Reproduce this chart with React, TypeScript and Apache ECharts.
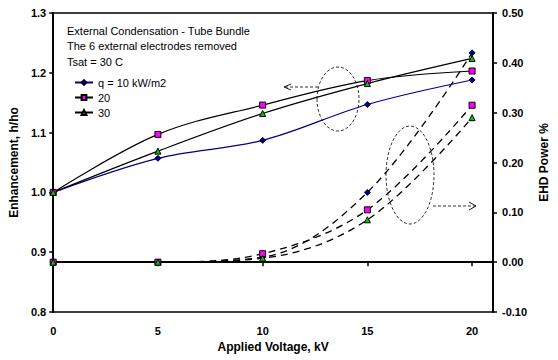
import React, { useEffect, useRef } from "react";
import * as echarts from "echarts";

const volts = [0, 5, 10, 15, 20];
const seriesNames = ["q = 10 kW/m2", "20", "30"];
const enh10 = [1.0, 1.057, 1.087, 1.147, 1.188];
const enh20 = [1.0, 1.097, 1.146, 1.187, 1.203];
const enh30 = [1.0, 1.069, 1.132, 1.182, 1.224];
const pow10 = [0, 0, 0.01, 0.14, 0.42];
const pow20 = [0, 0, 0.017, 0.105, 0.315];
const pow30 = [0, 0, 0.008, 0.085, 0.29];
const headerLines = [
  "External Condensation - Tube Bundle",
  "The 6 external electrodes removed",
  "Tsat = 30 C",
];

const FONT = "Liberation Sans, Arial, sans-serif";

export default function App() {
  const ref = useRef<HTMLDivElement>(null);
  useEffect(() => {
    document.body.style.margin = "0";
    if (!ref.current) return;
    const chart = echarts.init(ref.current, undefined, { renderer: "svg" });
    const pts = (ys: number[]) => volts.map((x, i) => [x, ys[i]]);
    const markers = [
      { symbol: "diamond", size: 6, color: "#000080", border: "#000040" },
      { symbol: "rect", size: 6, color: "#FF00FF", border: "#000000" },
      { symbol: "triangle", size: 6, color: "#00CC00", border: "#000000" },
    ];
    const enh = [enh10, enh20, enh30];
    const pw = [pow10, pow20, pow30];
    const lineColors = ["#000080", "#000000", "#000000"];
    const series: any[] = [];
    pw.forEach((p, i) => {
      series.push({
        name: seriesNames[i] + " EHD",
        type: "line",
        yAxisIndex: 1,
        data: pts(p),
        smooth: 0.35,
        symbol: markers[i].symbol,
        symbolSize: markers[i].size,
        itemStyle: { color: markers[i].color, borderColor: markers[i].border, borderWidth: 1 },
        lineStyle: { color: "#000", width: 1.3, type: [7, 5] },
        z: 2,
      });
    });
    enh.forEach((e, i) => {
      series.push({
        name: seriesNames[i],
        type: "line",
        yAxisIndex: 0,
        data: pts(e),
        smooth: 0.35,
        symbol: markers[i].symbol,
        symbolSize: markers[i].size,
        itemStyle: { color: markers[i].color, borderColor: markers[i].border, borderWidth: 1 },
        lineStyle: { color: lineColors[i], width: 1.2 },
        z: 3,
      });
    });
    const axisLabelStyle = { fontFamily: FONT, fontWeight: "bold" as const, fontSize: 11, color: "#000" };
    const nameStyle = { fontFamily: FONT, fontWeight: "bold" as const, fontSize: 12, color: "#000" };
    chart.setOption({
      animation: false,
      backgroundColor: "#fff",
      grid: {
        left: 52,
        right: 53,
        top: 13,
        bottom: 48,
        show: true,
        borderColor: "#000",
        borderWidth: 1.5,
        backgroundColor: "transparent",
      },
      legend: {
        data: seriesNames,
        orient: "vertical",
        left: 69,
        top: 72,
        itemWidth: 18,
        itemHeight: 6,
        itemGap: 4,
        textStyle: { fontFamily: FONT, fontSize: 11, color: "#000" },
      },
      xAxis: {
        type: "value",
        min: 0,
        max: 21,
        interval: 5,
        name: "Applied Voltage, kV",
        nameLocation: "middle",
        nameGap: 25,
        nameTextStyle: nameStyle,
        axisLine: { lineStyle: { color: "#000", width: 2 } },
        axisTick: { inside: false, length: 4, lineStyle: { color: "#000", width: 1.5 } },
        axisLabel: {
          ...axisLabelStyle,
          margin: 13,
          formatter: (v: number) => (v % 5 === 0 ? String(v) : ""),
        },
        splitLine: { show: false },
      },
      yAxis: [
        {
          type: "value",
          position: "left",
          min: 0.8,
          max: 1.3,
          interval: 0.1,
          name: "Enhancement, h/ho",
          nameLocation: "middle",
          nameRotate: 90,
          nameGap: 28,
          nameTextStyle: nameStyle,
          axisLine: { show: true, lineStyle: { color: "#000", width: 2 } },
          axisTick: { show: true, length: 4, lineStyle: { color: "#000", width: 1.5 } },
          axisLabel: { ...axisLabelStyle, margin: 7, formatter: (v: number) => v.toFixed(1) },
          splitLine: { show: false },
        },
        {
          type: "value",
          position: "right",
          min: -0.1,
          max: 0.5,
          interval: 0.1,
          name: "EHD Power %",
          nameLocation: "middle",
          nameRotate: 90,
          nameGap: 40,
          nameTextStyle: nameStyle,
          axisLine: { show: true, lineStyle: { color: "#000", width: 2 } },
          axisTick: { show: true, length: 4, lineStyle: { color: "#000", width: 1.5 } },
          axisLabel: { ...axisLabelStyle, margin: 9, formatter: (v: number) => v.toFixed(2) },
          splitLine: { show: false },
        },
      ],
      graphic: [
        ...headerLines.map((t, i) => ({
          type: "text",
          left: 67,
          top: 25 + i * 15.5,
          style: { text: t, fontFamily: FONT, fontSize: 11, fill: "#000" },
        })),
        {
          type: "ellipse",
          shape: { cx: 338, cy: 99, rx: 21, ry: 32 },
          style: { fill: "none", stroke: "#000", lineWidth: 0.8, lineDash: [3, 2] },
        },
        {
          type: "line",
          shape: { x1: 285, y1: 87, x2: 318, y2: 87 },
          style: { stroke: "#000", lineWidth: 0.8, lineDash: [3, 2] },
        },
        {
          type: "polyline",
          shape: { points: [[291, 84], [284, 87], [291, 90]] },
          style: { fill: "none", stroke: "#000", lineWidth: 0.9 },
        },
        {
          type: "ellipse",
          shape: { cx: 410, cy: 175, rx: 24, ry: 49 },
          style: { fill: "none", stroke: "#000", lineWidth: 0.8, lineDash: [3, 2] },
        },
        {
          type: "line",
          shape: { x1: 433, y1: 206, x2: 475, y2: 206 },
          style: { stroke: "#000", lineWidth: 0.8, lineDash: [3, 2] },
        },
        {
          type: "polyline",
          shape: { points: [[469, 202], [476, 206], [469, 210]] },
          style: { fill: "none", stroke: "#000", lineWidth: 0.9 },
        },
      ],
      series,
    });
    return () => chart.dispose();
  }, []);
  return <div ref={ref} style={{ width: 558, height: 360 }} />;
}
